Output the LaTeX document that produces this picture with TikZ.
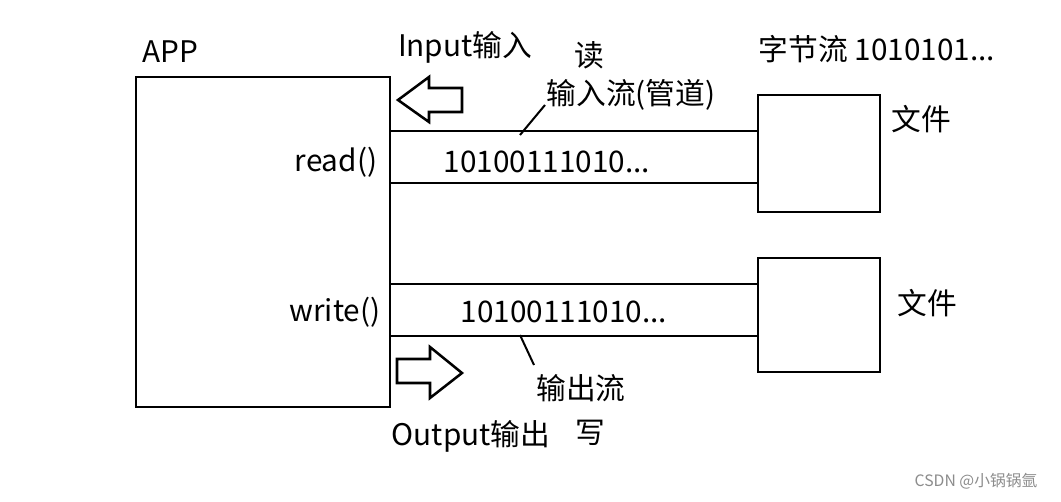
\documentclass[tikz,border=0pt]{standalone}
\usepackage{fontspec}
\setmainfont{Noto Sans CJK SC}
\begin{document}
\begin{tikzpicture}[x=0.75pt,y=-0.75pt,
  thick3/.style={line width=2.2pt},
  lbl/.style={font=\fontsize{22.3}{26}\selectfont, inner sep=0pt},
  wm/.style={font=\fontsize{11.8}{14}\selectfont, text=black!45, inner sep=0pt}]
\useasboundingbox[fill=white] (0,0) rectangle (1061,502);
% boxes
\node[draw, thick3, minimum width=254*0.75pt, minimum height=330*0.75pt, inner sep=0pt] (app) at (263,242) {};
\node[draw, thick3, minimum width=122*0.75pt, minimum height=117*0.75pt, inner sep=0pt] (f1) at (819,153.5) {};
\node[draw, thick3, minimum width=122*0.75pt, minimum height=114*0.75pt, inner sep=0pt] (f2) at (819,315) {};
% pipes
\coordinate (p1a) at (390,131); \coordinate (p1b) at (390,183);
\coordinate (p2a) at (390,284); \coordinate (p2b) at (390,336);
\draw[thick3] (p1a) -- (p1a -| f1.west);
\draw[thick3] (p1b) -- (p1b -| f1.west);
\draw[thick3] (p2a) -- (p2a -| f2.west);
\draw[thick3] (p2b) -- (p2b -| f2.west);
% hollow arrows
\draw[line width=1.9pt, line join=miter] (398,100) -- (429,77) -- (429,88) -- (462,88) -- (462,112) -- (429,112) -- (429,122) -- cycle;
\draw[line width=1.9pt, line join=miter] (462,373) -- (430,347) -- (430,359) -- (397,359) -- (397,383) -- (430,383) -- (430,398) -- cycle;
% texts
\node[lbl] (tapp) at (170,52) {APP};
\node[lbl] (tin) at (465,47) {Input输入};
\node[lbl] (tread) at (589,55) {读};
\node[lbl] (tinstream) at (631,95) {输入流(管道)};
\node[lbl] (tbytes) at (877,49) {字节流 1010101...};
\node[lbl] (tfile1) at (921,119) {文件};
\node[lbl] (tfile2) at (927,303) {文件};
\node[lbl] (trd) at (336,162) {read()};
\node[lbl] (twr) at (335,312) {write()};
\node[lbl] (tb1) at (547,162) {10100111010...};
\node[lbl] (tb2) at (564,312) {10100111010...};
\node[lbl] (toutstream) at (581,388) {输出流};
\node[lbl] (twrite) at (590,433) {写};
\node[lbl] (tout) at (471,436) {Output输出};
\node[wm] (wmk) at (976,481) {CSDN @小锅锅氩};
% pointer lines
\coordinate (c1) at (520,135); \coordinate (c2) at (534,365);
\draw[line width=1.5pt] (c1) -- (545,105);
\draw[line width=1.5pt] (c2) -- (520,335);
\end{tikzpicture}
\end{document}
